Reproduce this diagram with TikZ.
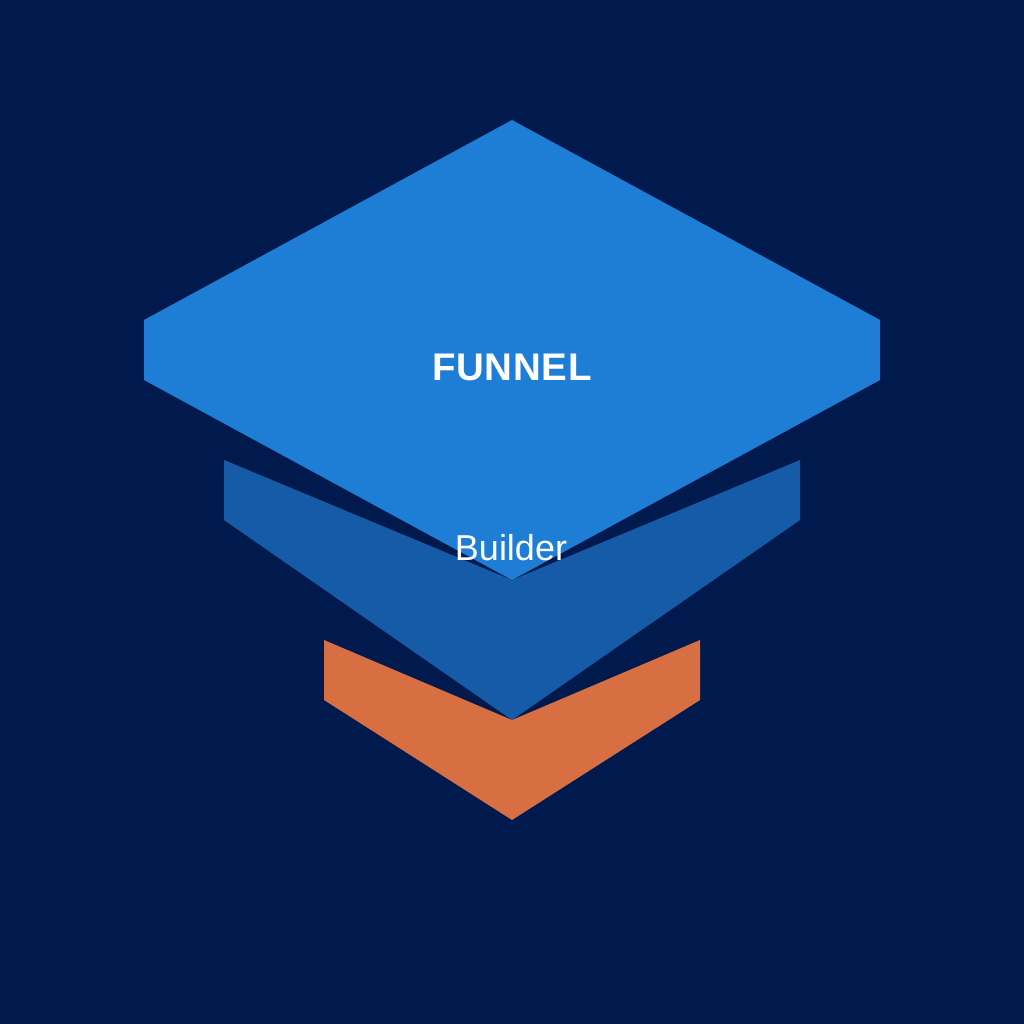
\documentclass[tikz,border=0pt]{standalone}
\usepackage{fontspec}
\setmainfont{Liberation Sans}
\definecolor{bg}{HTML}{001A4D}
\definecolor{topc}{HTML}{1E7ED6}
\definecolor{midc}{HTML}{155BA8}
\definecolor{botc}{HTML}{D86F42}
\tikzset{layer/.style={draw=none}, lbl/.style={text=white, inner sep=0pt, anchor=base}}
\begin{document}
\begin{tikzpicture}[x=1pt,y=-1pt]
\fill[bg] (0,0) rectangle (1024,1024);
\useasboundingbox (0,0) rectangle (1024,1024);
\fill[layer, fill=midc] (224,460) -- (512,580) -- (800,460) -- (800,520) -- (512,720) -- (224,520) -- cycle;
\fill[layer, fill=botc] (324,640) -- (512,720) -- (700,640) -- (700,700) -- (512,820) -- (324,700) -- cycle;
\fill[layer, fill=topc] (512,120) -- (880,320) -- (880,380) -- (512,580) -- (144,380) -- (144,320) -- cycle;
\node[lbl, font=\bfseries\fontsize{38.5}{40}\selectfont\addfontfeature{LetterSpace=2}] (t1) at (512,380) {FUNNEL};
\node[lbl, font=\fontsize{36}{40}\selectfont] (t2) at (511,560) {Builder};
\end{tikzpicture}
\end{document}
